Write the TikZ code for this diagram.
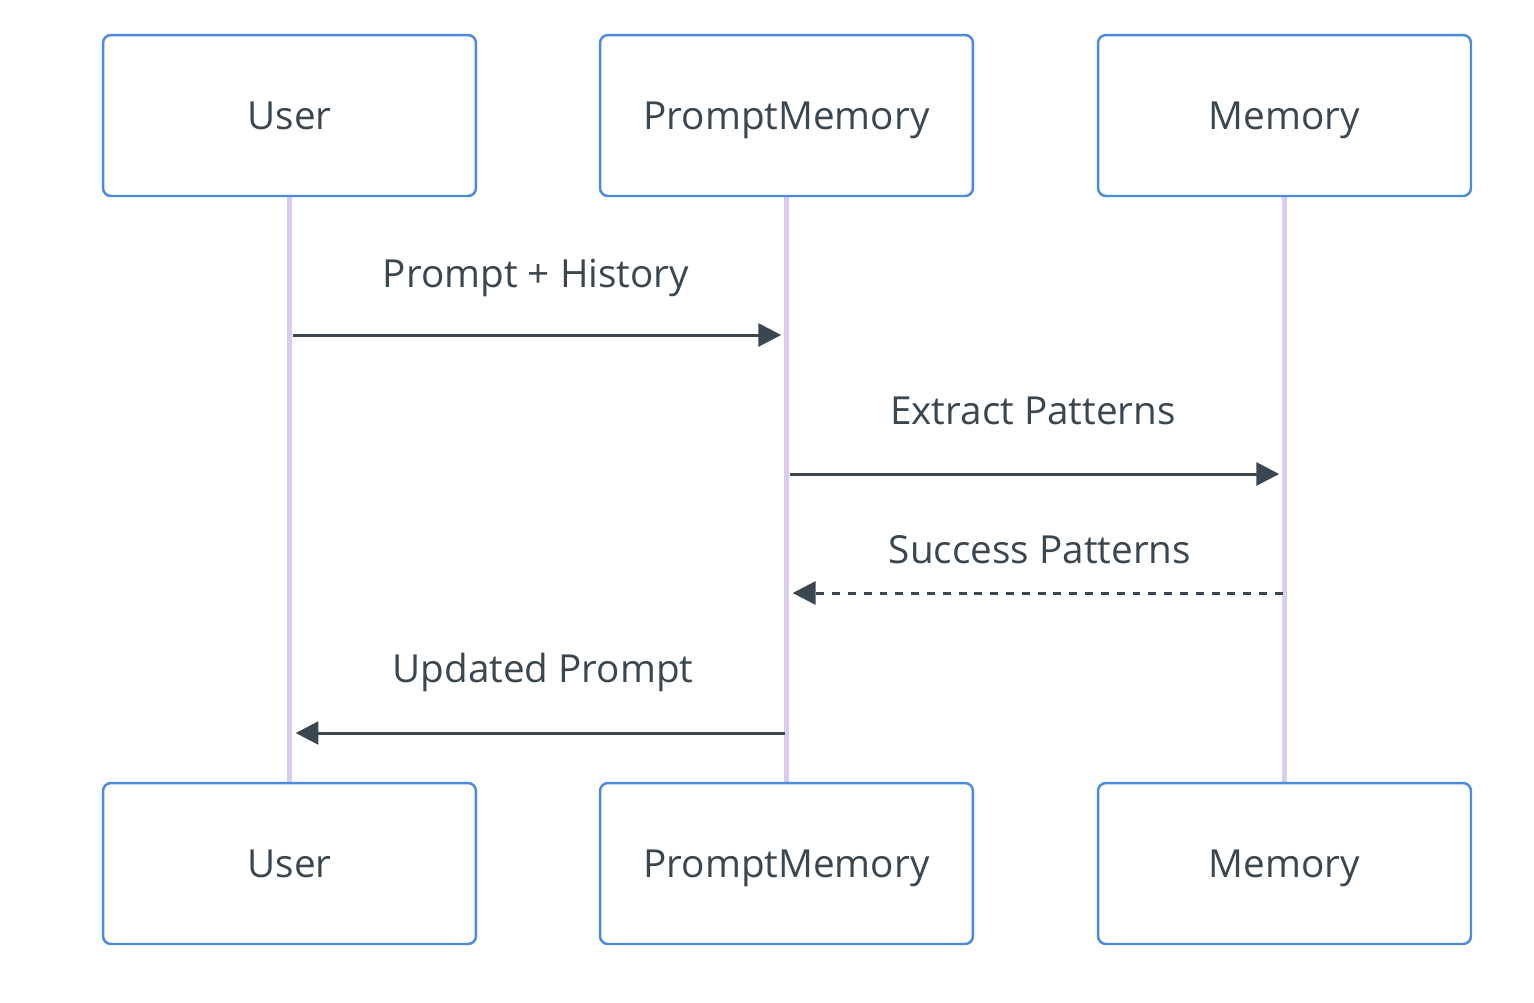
\documentclass[tikz,border=0pt]{standalone}
\usepackage{fontspec}
\setmainfont{Open Sans}
\usetikzlibrary{arrows.meta}

\definecolor{boxblue}{HTML}{4A8BDF}
\definecolor{lifeline}{HTML}{D9CCEE}
\definecolor{ink}{HTML}{3A4650}

\tikzset{
    actor/.style={draw=boxblue, line width=1.4pt, rounded corners=4.5pt, fill=white,
        minimum width=7.46cm, minimum height=3.22cm, inner sep=0pt,
        text height=15.7pt, text depth=0pt,
        text=ink, font=\fontsize{22}{26}\selectfont},
    lifeline/.style={draw=lifeline, line width=2.8pt},
    msg/.style={draw=ink, line width=1.7pt, -{Triangle[length=13pt,width=13pt]}},
    reply/.style={msg, dash pattern=on 4.5pt off 4.5pt},
    msgtext/.style={text=ink, font=\fontsize{22}{26}\selectfont, anchor=base, inner sep=0pt}
}

\begin{document}
\begin{tikzpicture}[x=0.02cm, y=-0.02cm]
        \useasboundingbox (0,0) rectangle (1534,1002);

        % Lifelines
        \foreach \name/\x in {user/289.5, pm/786.5, mem/1284.5} {
            \draw[lifeline] (\x,196) -- (\x,783);
            \coordinate (\name) at (\x,0);
        }

        % Actors on top and bottom
        \foreach \name/\x/\txt in {user/289.5/User, pm/786.5/PromptMemory, mem/1284.5/Memory} {
            \node[actor] (\name top) at (\x,115.5) {\txt};
            \node[actor] (\name bot) at (\x,863.5) {\txt};
        }

        % Messages
        \draw[msg, shorten <=2pt, shorten >=3pt] (user |- 0,335) -- (pm |- 0,335);
        \node[msgtext] (m1) at (536,287) {Prompt + History};

        \draw[msg, shorten <=2pt, shorten >=3pt] (pm |- 0,474) -- (mem |- 0,474);
        \node[msgtext] (m2) at (1033,424) {Extract Patterns};

        \draw[reply, shorten <=1pt, shorten >=3.5pt] (mem |- 0,593) -- (pm |- 0,593);
        \node[msgtext] (m3) at (1040,563) {Success Patterns};

        \draw[msg, shorten <=1pt, shorten >=3.5pt] (pm |- 0,733) -- (user |- 0,733);
        \node[msgtext] (m4) at (543,682) {Updated Prompt};

    \end{tikzpicture}
\end{document}
